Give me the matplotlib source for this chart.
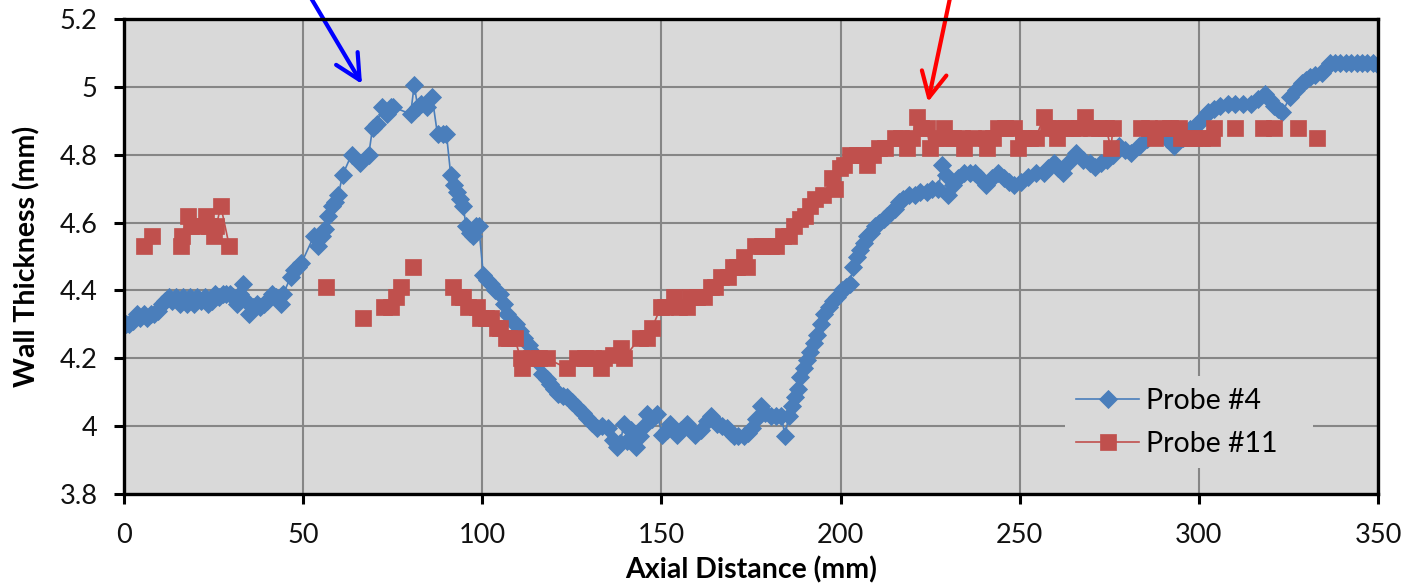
import numpy as np
import matplotlib
matplotlib.use("Agg")
import matplotlib.pyplot as plt

plt.rcParams['font.family'] = ['Lato', 'DejaVu Sans']

# ---------------- data ----------------
probe4_x = [0.5, 1.5, 2.5, 3.5, 4.5, 5.5, 6.5, 7.5, 8.5, 9.5, 10.5, 11.5, 12.5, 13.5, 14.5, 15.5,
            16.5, 17.5, 18.5, 19.5, 20.5, 21.5, 22.5, 23.5, 24.5, 25.5, 26.5, 27.5, 28.5, 29.5, 30.5,
            31.5, 32.5, 33.2, 34.0, 35.0, 36.0, 37.0, 38.0, 39.0, 40.0, 41.2, 42.5, 43.8, 44.5, 46.5,
            47.5, 48.5, 49.5, 53.0, 54.2, 55.2, 56.0, 57.0, 58.0, 59.0, 59.8, 61.0, 63.5, 66.0, 68.3,
            69.4, 70.5, 72.0, 73.3, 74.5, 75.2, 80.0, 81.0, 82.0, 83.0, 84.5, 86.0, 87.5, 89.0, 90.0,
            91.2, 92.0, 93.0, 93.8, 94.6, 95.5, 96.5, 97.3, 98.3, 99.0, 100.3, 101.2, 102.3, 103.5,
            105.0, 106.0, 107.0, 108.2, 109.3, 110.5, 111.6, 113.0, 114.0, 115.5, 116.7, 118.0, 119.0,
            120.0, 121.0, 122.5, 123.7, 125.0, 126.5, 128.0, 129.3, 130.5, 132.0, 133.5, 135.0, 136.5,
            137.7, 138.5, 139.5, 140.5, 141.5, 143.0, 144.0, 145.0, 146.0, 147.5, 148.8, 150.2, 151.5,
            152.5, 153.5, 154.4, 155.5, 157.0, 158.3, 159.5, 161.0, 162.8, 163.7, 164.5, 165.6, 167.0,
            168.4, 169.3, 170.2, 171.5, 173.0, 174.2, 175.3, 176.5, 177.7, 179.0, 180.5, 182.0, 183.5,
            184.5, 185.5, 186.5, 187.3, 188.0, 188.8, 189.7, 190.7, 191.6, 192.6, 193.5, 194.4, 195.5,
            196.7, 198.0, 199.0, 200.3, 201.5, 202.5, 203.6, 204.5, 205.5, 206.4, 207.5, 208.6, 209.7,
            210.8, 212.0, 213.0, 214.0, 215.2, 216.3, 217.4, 219.0, 220.7, 222.3, 224.0, 225.5, 227.3,
            228.4, 229.3, 230.1, 231.5, 232.8, 234.5, 236.0, 237.5, 239.0, 240.6, 242.3, 244.0, 245.5,
            247.0, 248.4, 250.3, 252.2, 254.5, 256.7, 258.0, 259.5, 260.8, 262.2, 263.8, 265.6, 267.8,
            269.5, 271.0, 272.7, 274.3, 276.0, 277.6, 279.3, 281.0, 283.2, 285.4, 287.0, 288.8, 291.0,
            293.2, 295.5, 297.6, 299.0, 300.3, 301.5, 302.5, 304.2, 305.8, 308.0, 310.2, 312.3, 314.5,
            316.5, 318.4, 319.8, 321.0, 322.2, 323.3, 325.4, 327.0, 328.7, 330.0, 330.9, 332.5, 334.3,
            335.5, 336.5, 338.0, 339.5, 341.0, 342.5, 344.0, 345.5, 347.0, 348.5, 350.0]
probe4_y = [4.30, 4.30, 4.31, 4.33, 4.32, 4.33, 4.32, 4.33, 4.33, 4.34, 4.36, 4.37, 4.38, 4.37, 4.38, 4.36,
            4.38, 4.36, 4.38, 4.36, 4.38, 4.37, 4.38, 4.36, 4.37, 4.39, 4.38, 4.39, 4.39, 4.39, 4.38,
            4.36, 4.39, 4.42, 4.37, 4.33, 4.35, 4.36, 4.35, 4.36, 4.37, 4.39, 4.38, 4.36, 4.39, 4.44,
            4.46, 4.47, 4.48, 4.56, 4.53, 4.56, 4.58, 4.62, 4.65, 4.66, 4.68, 4.74, 4.80, 4.775, 4.80,
            4.88, 4.89, 4.94, 4.92, 4.94, 4.94, 4.92, 5.005, 4.94, 4.95, 4.94, 4.97, 4.86, 4.86, 4.86,
            4.74, 4.71, 4.69, 4.67, 4.65, 4.59, 4.57, 4.56, 4.59, 4.59, 4.445, 4.43, 4.42, 4.40,
            4.39, 4.36, 4.33, 4.31, 4.30, 4.28, 4.26, 4.24, 4.22, 4.19, 4.155, 4.14, 4.125,
            4.11, 4.095, 4.09, 4.085, 4.07, 4.055, 4.04, 4.025, 4.01, 3.995, 4.00, 3.995, 3.96,
            3.94, 3.95, 4.005, 3.955, 3.99, 3.94, 3.97, 4.00, 4.035, 4.02, 4.035, 3.975, 3.99,
            4.005, 3.99, 3.975, 3.99, 4.005, 3.99, 3.975, 3.99, 4.015, 4.03, 4.02, 4.005, 4.00,
            3.995, 3.98, 3.97, 3.97, 3.97, 3.98, 3.995, 4.02, 4.06, 4.04, 4.03, 4.03, 4.03,
            3.97, 4.03, 4.06, 4.085, 4.11, 4.145, 4.17, 4.195, 4.22, 4.245, 4.27, 4.30, 4.33,
            4.35, 4.37, 4.38, 4.40, 4.41, 4.42, 4.47, 4.50, 4.52, 4.54, 4.56, 4.57, 4.59,
            4.60, 4.61, 4.62, 4.63, 4.64, 4.66, 4.67, 4.68, 4.68, 4.69, 4.69, 4.70, 4.70,
            4.77, 4.74, 4.68, 4.71, 4.73, 4.745, 4.745, 4.745, 4.73, 4.71, 4.73, 4.745, 4.73,
            4.72, 4.71, 4.72, 4.735, 4.745, 4.745, 4.76, 4.775, 4.76, 4.745, 4.78, 4.805, 4.785,
            4.775, 4.765, 4.775, 4.785, 4.80, 4.825, 4.815, 4.805, 4.825, 4.845, 4.855, 4.865, 4.845,
            4.825, 4.85, 4.875, 4.885, 4.895, 4.91, 4.925, 4.935, 4.945, 4.95, 4.95, 4.95, 4.95,
            4.965, 4.98, 4.96, 4.945, 4.935, 4.925, 4.97, 4.99, 5.01, 5.02, 5.03, 5.035, 5.04,
            5.055, 5.07, 5.07, 5.07, 5.07, 5.07, 5.07, 5.07, 5.07, 5.07, 5.065]

# Probe #11 (NaN marks a gap in the measured record)
probe11_x = [5.6, 7.9, 11.0,
             15.8, 16.2, 17.8, 18.6, 20.5, 22.8, 23.6, 25.2, 25.8, 27.0, 29.4, 40.0,
             56.4, 60.0,
             66.6, 70.0,
             72.7, 74.5, 76.0, 77.4, 79.0,
             80.6, 85.0,
             91.8, 93.5, 94.6, 96.0, 98.6, 99.5, 101.0, 102.3, 104.0, 105.0, 106.5, 107.4, 109.0,
             110.7, 111.0, 113.5, 115.8, 118.0, 123.7, 126.5, 128.8, 131.0, 133.0, 134.0, 136.5,
             138.6, 139.5, 144.0, 146.0, 147.4, 149.8, 151.0, 153.5, 155.0, 157.0, 158.0, 160.0,
             162.0, 163.7, 165.0, 166.5, 168.5, 170.0, 171.0, 173.0, 174.0, 176.0, 178.0, 180.5,
             182.0, 184.0, 185.5, 187.0, 188.8, 190.0, 191.6, 193.0, 195.0, 197.6, 198.5, 199.8,
             201.0, 202.5, 204.5, 206.4, 207.5, 209.0, 210.8, 212.5, 215.2, 217.0, 218.5, 220.0,
             221.3, 222.5, 224.0, 225.0, 226.5, 229.0, 229.5, 231.5, 234.0, 234.5, 237.0, 240.6,
             241.0, 242.5, 244.0, 246.0, 248.4, 249.5, 251.0, 253.0, 254.5, 256.7, 258.0, 260.0,
             260.5, 262.5, 264.5, 266.5, 268.3, 270.0, 272.0, 274.0, 275.5, 276.0, 280.0,
             283.9, 286.0, 287.7, 290.0, 292.0, 294.5, 295.0, 297.0, 298.8, 301.0, 303.6, 304.2, 307.0,
             310.2, 314.0,
             317.8, 321.0, 324.0,
             327.6, 330.0,
             333.0]
probe11_y = [4.53, 4.56, np.nan,
             4.53, 4.56, 4.62, 4.59, 4.59, 4.62, 4.59, 4.56, 4.59, 4.65, 4.53, np.nan,
             4.41, np.nan,
             4.32, np.nan,
             4.35, 4.35, 4.38, 4.41, np.nan,
             4.47, np.nan,
             4.41, 4.38, 4.38, 4.35, 4.35, 4.32, 4.32, 4.32, 4.29, 4.29, 4.26, 4.26, 4.26,
             4.20, 4.17, 4.20, 4.20, 4.20, 4.17, 4.20, 4.20, 4.20, 4.17, 4.20, 4.21,
             4.23, 4.20, 4.26, 4.26, 4.29, 4.35, 4.35, 4.38, 4.35, 4.35, 4.38, 4.38,
             4.38, 4.41, 4.41, 4.44, 4.44, 4.47, 4.47, 4.50, 4.47, 4.53, 4.53, 4.53,
             4.53, 4.56, 4.56, 4.59, 4.61, 4.62, 4.65, 4.67, 4.68, 4.73, 4.70, 4.76,
             4.77, 4.80, 4.80, 4.80, 4.77, 4.80, 4.82, 4.82, 4.85, 4.85, 4.82, 4.85,
             4.91, 4.88, 4.88, 4.82, 4.85, 4.88, 4.85, 4.85, 4.85, 4.82, 4.85, 4.85,
             4.82, 4.85, 4.88, 4.88, 4.88, 4.82, 4.85, 4.85, 4.85, 4.91, 4.88, 4.88,
             4.85, 4.88, 4.88, 4.88, 4.91, 4.88, 4.88, 4.88, 4.82, 4.88, np.nan,
             4.88, 4.88, 4.85, 4.88, 4.88, 4.88, 4.85, 4.85, 4.85, 4.85, 4.85, 4.88, np.nan,
             4.88, np.nan,
             4.88, 4.88, np.nan,
             4.88, np.nan,
             4.85]

x_ticks = [0, 50, 100, 150, 200, 250, 300, 350]
y_ticks = [3.8, 4.0, 4.2, 4.4, 4.6, 4.8, 5.0, 5.2]
y_tick_labels = ["3.8", "4", "4.2", "4.4", "4.6", "4.8", "5", "5.2"]

BLUE = "#4A7EBB"
RED = "#C0504D"

# ---------------- figure ----------------
fig = plt.figure(figsize=(14.14, 5.85), dpi=100)
ax = fig.add_axes([124/1414, 91/585, (1378-124)/1414, (494-19)/585])
ax.set_facecolor("#D9D9D9")

ax.plot(probe4_x, probe4_y, color=BLUE, lw=1.2, marker="D", ms=9.2,
        mfc=BLUE, mec=BLUE, mew=0.6, zorder=3, label="Probe #4")
ax.plot(probe11_x, probe11_y, color=RED, lw=1.2, marker="s", ms=11.5,
        mfc=RED, mec=RED, mew=0.5, zorder=4, label="Probe #11")

ax.set_xlim(0, 350)
ax.set_ylim(3.8, 5.2)
ax.set_xticks(x_ticks)
ax.set_yticks(y_ticks)
ax.set_yticklabels(y_tick_labels)
ax.grid(True, color="#868686", lw=1.5, zorder=0)
ax.set_axisbelow(True)

for s in ax.spines.values():
    s.set_linewidth(2.4)
    s.set_color("black")
    s.set_zorder(6)
ax.tick_params(axis="both", direction="out", length=7, width=2.2, color="black",
               labelsize=19.5, labelcolor="#111111")
ax.tick_params(axis="x", pad=14)
ax.tick_params(axis="y", pad=12)

ax.set_xlabel("Axial Distance (mm)", fontsize=20.5, fontweight="bold", labelpad=6)
ax.set_ylabel("Wall Thickness (mm)", fontsize=20.5, fontweight="bold", labelpad=14)

leg = ax.legend(loc="lower left", bbox_to_anchor=(0.7504, 0.0547, 0.1976, 0.1933),
                mode="expand", borderaxespad=0, frameon=True, fontsize=20.5,
                handlelength=2.2, handletextpad=0.25, labelspacing=0.6,
                borderpad=0.4, fancybox=False)
leg.get_frame().set_facecolor("#D9D9D9")
leg.get_frame().set_edgecolor("none")
leg.get_frame().set_alpha(1)
leg.set_zorder(5)

# arrows pointing at the peaks
ax.annotate("", xy=(362, 585-84), xytext=(311, 587), xycoords="figure pixels",
            textcoords="figure pixels", annotation_clip=False,
            arrowprops=dict(arrowstyle="->,head_length=0.9,head_width=0.45", color="#0000FF",
                            lw=3, mutation_scale=20, shrinkA=0, shrinkB=0))
ax.annotate("", xy=(928, 585-102), xytext=(950, 587), xycoords="figure pixels",
            textcoords="figure pixels", annotation_clip=False,
            arrowprops=dict(arrowstyle="->,head_length=0.9,head_width=0.45", color="#FF0000",
                            lw=3, mutation_scale=20, shrinkA=0, shrinkB=0))

fig.savefig("out.png", dpi=100)
